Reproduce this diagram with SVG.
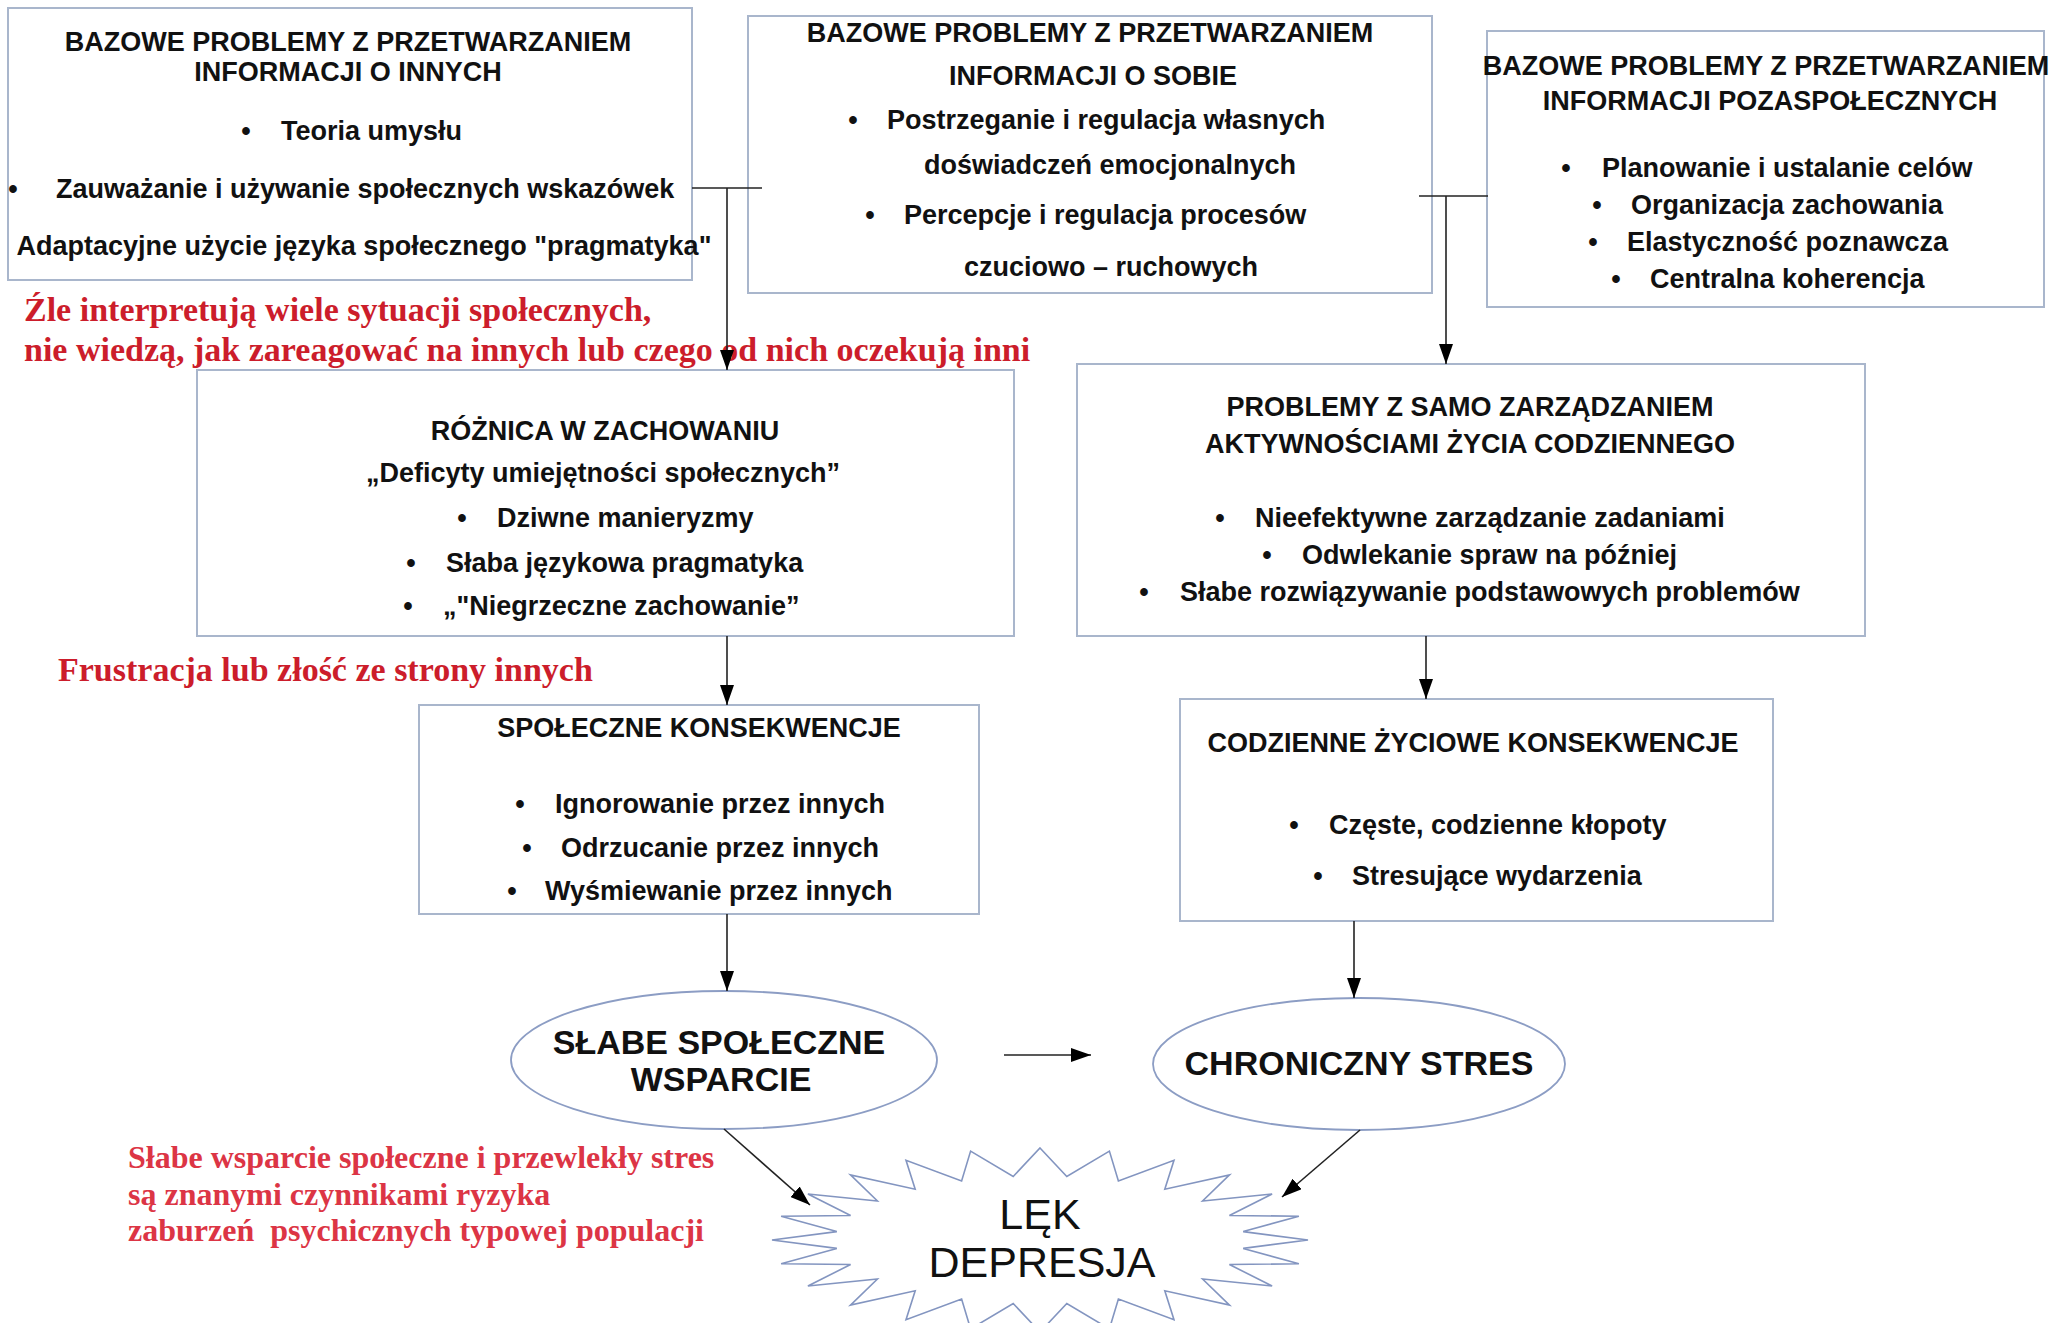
<svg xmlns="http://www.w3.org/2000/svg" width="2051" height="1323" viewBox="0 0 2051 1323">
<defs>
<style>
.box{fill:#fff;stroke:#a9b6cc;stroke-width:2}
.oval{fill:#fff;stroke:#8c9dc4;stroke-width:1.8}
.star{fill:#fff;stroke:#8395c0;stroke-width:1.6}
.t{font-family:"Liberation Sans",Arial,sans-serif;font-weight:bold;font-size:27px;fill:#111}
.c{text-anchor:middle}
.big{font-size:34px}
.reg{font-family:"Liberation Sans",Arial,sans-serif;font-size:43px;fill:#111;text-anchor:middle}
.red{font-family:"Liberation Serif","Times New Roman",serif;font-weight:bold;font-size:34px;fill:#cc1d2b}
.red2{font-family:"Liberation Serif","Times New Roman",serif;font-weight:bold;font-size:32px;fill:#dc3545;white-space:pre}
.conn{stroke:#222;stroke-width:1.6;fill:none}
</style>
<marker id="arr" viewBox="0 0 20 14" refX="20" refY="7" markerWidth="20" markerHeight="14" markerUnits="userSpaceOnUse" orient="auto">
<path d="M0,0 L20,7 L0,14 z" fill="#000"/>
</marker>
</defs>
<rect width="2051" height="1323" fill="#fff"/>

<g id="node-info-inni">
<rect class="box" x="8" y="8" width="684" height="272"/>
<text class="t c" x="348" y="51">BAZOWE PROBLEMY Z PRZETWARZANIEM</text>
<text class="t c" x="348" y="81">INFORMACJI O INNYCH</text>
<text class="t c" x="246" y="140">•</text>
<text class="t" x="281" y="140">Teoria umysłu</text>
<text class="t c" x="13" y="198">•</text>
<text class="t" x="56" y="198">Zauważanie i używanie społecznych wskazówek</text>
<text class="t c" x="364" y="255">Adaptacyjne użycie języka społecznego "pragmatyka"</text>
</g>

<g id="node-info-sobie">
<rect class="box" x="748" y="16" width="684" height="277"/>
<text class="t c" x="1090" y="42">BAZOWE PROBLEMY Z PRZETWARZANIEM</text>
<text class="t c" x="1093" y="85">INFORMACJI O SOBIE</text>
<text class="t c" x="853" y="129">•</text>
<text class="t" x="887" y="129">Postrzeganie i regulacja własnych</text>
<text class="t" x="924" y="174">doświadczeń emocjonalnych</text>
<text class="t c" x="870" y="224">•</text>
<text class="t" x="904" y="224">Percepcje i regulacja procesów</text>
<text class="t" x="964" y="276">czuciowo – ruchowych</text>
</g>

<g id="node-info-pozaspoleczne">
<rect class="box" x="1487" y="31" width="557" height="276"/>
<text class="t c" x="1766" y="75">BAZOWE PROBLEMY Z PRZETWARZANIEM</text>
<text class="t c" x="1770" y="110">INFORMACJI POZASPOŁECZNYCH</text>
<text class="t c" x="1566" y="177">•</text>
<text class="t" x="1602" y="177">Planowanie i ustalanie celów</text>
<text class="t c" x="1597" y="214">•</text>
<text class="t" x="1631" y="214">Organizacja zachowania</text>
<text class="t c" x="1593" y="251">•</text>
<text class="t" x="1627" y="251">Elastyczność poznawcza</text>
<text class="t c" x="1616" y="288">•</text>
<text class="t" x="1650" y="288">Centralna koherencja</text>
</g>

<g id="node-roznica">
<rect class="box" x="197" y="370" width="817" height="266"/>
<text class="t c" x="605" y="440">RÓŻNICA W ZACHOWANIU</text>
<text class="t c" x="603" y="482">„Deficyty umiejętności społecznych”</text>
<text class="t c" x="462" y="527">•</text>
<text class="t" x="497" y="527">Dziwne manieryzmy</text>
<text class="t c" x="411" y="572">•</text>
<text class="t" x="446" y="572">Słaba językowa pragmatyka</text>
<text class="t c" x="408" y="615">•</text>
<text class="t" x="443" y="615">„"Niegrzeczne zachowanie”</text>
</g>

<g id="node-samozarzadzanie">
<rect class="box" x="1077" y="364" width="788" height="272"/>
<text class="t c" x="1470" y="416">PROBLEMY Z SAMO ZARZĄDZANIEM</text>
<text class="t c" x="1470" y="453">AKTYWNOŚCIAMI ŻYCIA CODZIENNEGO</text>
<text class="t c" x="1220" y="527">•</text>
<text class="t" x="1255" y="527">Nieefektywne zarządzanie zadaniami</text>
<text class="t c" x="1267" y="564">•</text>
<text class="t" x="1302" y="564">Odwlekanie spraw na później</text>
<text class="t c" x="1144" y="601">•</text>
<text class="t" x="1180" y="601">Słabe rozwiązywanie podstawowych problemów</text>
</g>

<g id="node-spoleczne-konsekwencje">
<rect class="box" x="419" y="705" width="560" height="209"/>
<text class="t c" x="699" y="737">SPOŁECZNE KONSEKWENCJE</text>
<text class="t c" x="520" y="813">•</text>
<text class="t" x="555" y="813">Ignorowanie przez innych</text>
<text class="t c" x="527" y="857">•</text>
<text class="t" x="561" y="857">Odrzucanie przez innych</text>
<text class="t c" x="512" y="900">•</text>
<text class="t" x="545" y="900">Wyśmiewanie przez innych</text>
</g>

<g id="node-codzienne-konsekwencje">
<rect class="box" x="1180" y="699" width="593" height="222"/>
<text class="t c" x="1473" y="752">CODZIENNE ŻYCIOWE KONSEKWENCJE</text>
<text class="t c" x="1294" y="834">•</text>
<text class="t" x="1329" y="834">Częste, codzienne kłopoty</text>
<text class="t c" x="1318" y="885">•</text>
<text class="t" x="1352" y="885">Stresujące wydarzenia</text>
</g>

<g id="node-slabe-wsparcie">
<ellipse class="oval" cx="724" cy="1060" rx="213" ry="69"/>
<text class="t c big" x="719" y="1054">SŁABE SPOŁECZNE</text>
<text class="t c big" x="721" y="1091">WSPARCIE</text>
</g>

<g id="node-chroniczny-stres">
<ellipse class="oval" cx="1359" cy="1064" rx="206" ry="66"/>
<text class="t c big" x="1359" y="1075">CHRONICZNY STRES</text>
</g>

<g id="node-lek-depresja">
<polygon class="star" points="1040,1148 1066.8,1176.5 1109.4,1151.1 1118.4,1180.9 1174,1160.3 1164.8,1189.2 1229.5,1174.9 1202.6,1201 1272.1,1194 1229.4,1215.5 1298.9,1216.2 1243.2,1231.6 1308,1240 1243.2,1248.4 1298.9,1263.8 1229.4,1264.5 1272.1,1286 1202.6,1279 1229.5,1305.1 1164.8,1290.8 1174,1319.7 1118.4,1299.1 1109.4,1328.9 1066.8,1303.5 1040,1332 1013.2,1303.5 970.6,1328.9 961.6,1299.1 906,1319.7 915.2,1290.8 850.5,1305.1 877.4,1279 807.9,1286 850.6,1264.5 781.1,1263.8 836.8,1248.4 772,1240 836.8,1231.6 781.1,1216.2 850.6,1215.5 807.9,1194 877.4,1201 850.5,1174.9 915.2,1189.2 906,1160.3 961.6,1180.9 970.6,1151.1 1013.2,1176.5"/>
<text class="reg" x="1040" y="1229">LĘK</text>
<text class="reg" x="1042" y="1277">DEPRESJA</text>
</g>

<g id="annotations">
<text class="red" x="24" y="321">Źle interpretują wiele sytuacji społecznych,</text>
<text class="red" x="24" y="361">nie wiedzą, jak zareagować na innych lub czego od nich oczekują inni</text>
<text class="red" x="58" y="681">Frustracja lub złość ze strony innych</text>
<text class="red2" x="128" y="1168">Słabe wsparcie społeczne i przewlekły stres</text>
<text class="red2" x="128" y="1205">są znanymi czynnikami ryzyka</text>
<text class="red2" x="128" y="1241">zaburzeń  psychicznych typowej populacji</text>
</g>

<g id="connectors">
<path class="conn" d="M692,188 H762"/>
<path class="conn" d="M727,188 V370" marker-end="url(#arr)"/>
<path class="conn" d="M1419,196 H1488"/>
<path class="conn" d="M1446,196 V364" marker-end="url(#arr)"/>
<path class="conn" d="M727,636 V705" marker-end="url(#arr)"/>
<path class="conn" d="M1426,636 V699" marker-end="url(#arr)"/>
<path class="conn" d="M727,914 V991" marker-end="url(#arr)"/>
<path class="conn" d="M1354,921 V998" marker-end="url(#arr)"/>
<path class="conn" d="M1004,1055 H1091" marker-end="url(#arr)"/>
<path class="conn" d="M724,1129 L810,1205" marker-end="url(#arr)"/>
<path class="conn" d="M1360,1130 L1282,1197" marker-end="url(#arr)"/>
</g>
</svg>
